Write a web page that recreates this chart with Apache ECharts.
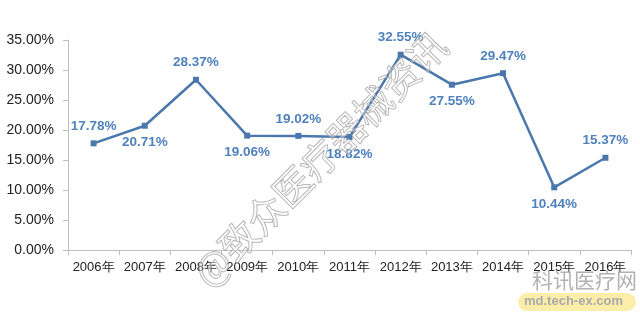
<!DOCTYPE html>
<html><head><meta charset="utf-8">
<script src="https://cdn.jsdelivr.net/npm/echarts@6/dist/echarts.min.js"></script>
<style>html,body{margin:0;padding:0;background:#fff}#c{width:640px;height:318px}</style>
</head><body><div id="c"></div>
<script>
const categories = ['2006年','2007年','2008年','2009年','2010年','2011年','2012年','2013年','2014年','2015年','2016年'];
const values = [17.78, 20.71, 28.37, 19.06, 19.02, 18.82, 32.55, 27.55, 29.47, 10.44, 15.37];
const labelPos = ['top','bottom','top','bottom','top','bottom','top','bottom','top','bottom','top'];
const yTicks = [0, 5, 10, 15, 20, 25, 30, 35];

const chart = echarts.init(document.getElementById('c'));
chart.setOption({
  animation: false,
  grid: {left: 68, right: 9, top: 40, bottom: 68},
  xAxis: {
    type: 'category', data: categories, boundaryGap: true,
    axisLine: {lineStyle: {color: '#bfbfbf', width: 1}},
    axisTick: {show: true, length: 5, lineStyle: {color: '#bfbfbf'}},
    axisLabel: {color: '#222', fontSize: 13, margin: 11, fontFamily: 'Liberation Sans, Arial, sans-serif', interval: 0}
  },
  yAxis: {
    type: 'value', min: yTicks[0], max: yTicks[yTicks.length-1], interval: 5,
    axisLine: {show: true, lineStyle: {color: '#bfbfbf', width: 1}},
    axisTick: {show: true, length: 5, lineStyle: {color: '#bfbfbf'}},
    splitLine: {show: false},
    axisLabel: {color: '#222', fontSize: 14, margin: 14, fontFamily: 'Liberation Sans, Arial, sans-serif',
      formatter: v => v.toFixed(2) + '%'}
  },
  series: [{
    type: 'line',
    data: values.map((v, i) => ({value: v, label: {position: labelPos[i]}})),
    symbol: 'rect', symbolSize: 6,
    lineStyle: {color: '#4a78ad', width: 2.5},
    itemStyle: {color: '#4a78ad'},
    label: {show: true, color: '#4f81bd', fontSize: 13.5, fontWeight: 'bold', distance: 7,
      fontFamily: 'Liberation Sans, Arial, sans-serif', formatter: p => p.value.toFixed(2) + '%'}
  }],
  graphic: [
    {type: 'text', left: 'center', top: 'middle', x: 325, y: 160, z: 100,
      rotation: Math.PI / 4,
      style: {text: '@致众医疗器械资讯', x: 0, y: 0, textAlign: 'center', textVerticalAlign: 'middle',
        font: '38px "Noto Sans CJK SC", sans-serif', fill: 'rgba(255,255,255,0.35)', stroke: 'rgba(140,140,140,0.75)', lineWidth: 1}},
    {type: 'text', x: 532, y: 270, z: 100,
      style: {text: '科讯医疗网', font: '21px "Noto Sans CJK SC", sans-serif', fill: 'rgba(170,170,170,0.9)'}},
    {type: 'rect', shape: {x: 518, y: 293, width: 118, height: 18, r: 9}, z: 99,
      style: {fill: 'rgba(252,236,160,0.9)'}},
    {type: 'text', x: 524, y: 295, z: 100,
      style: {text: 'md.tech-ex.com', font: 'bold 13px "Liberation Sans", Arial, sans-serif', fill: '#aaa'}}
  ]
});
</script></body></html>
